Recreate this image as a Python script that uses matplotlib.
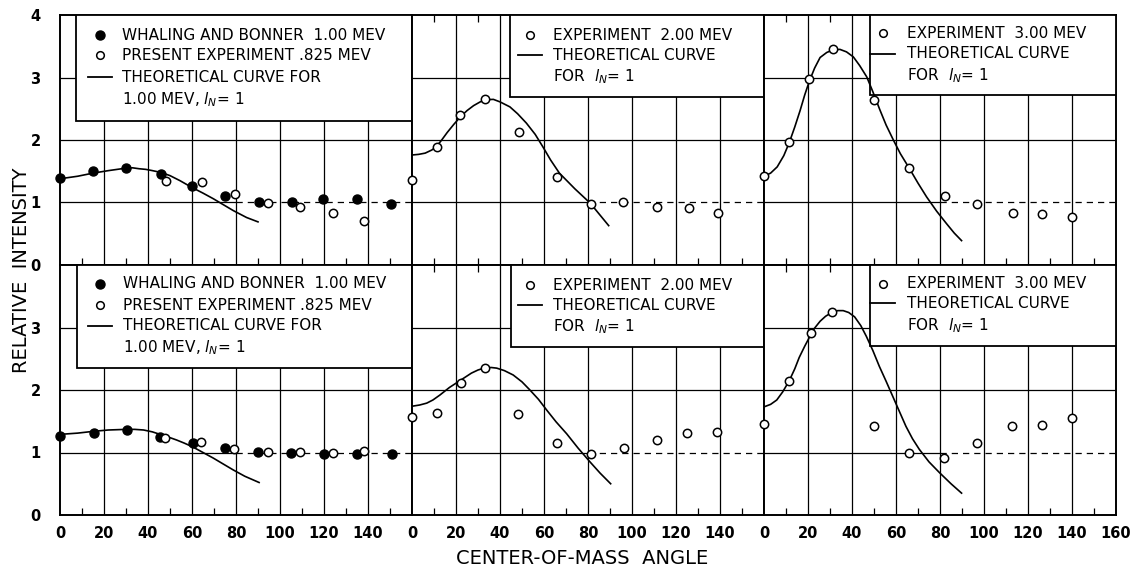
import matplotlib
matplotlib.use('Agg')
import matplotlib.pyplot as plt
from matplotlib.patches import Rectangle

plt.rcParams['font.family'] = 'DejaVu Sans'
plt.rcParams['mathtext.fontset'] = 'dejavusans'

# ---------------- data ----------------
# upper row
wb_top_x = [0, 15, 30, 46, 60, 75, 90.5, 105.5, 119.7, 134.8, 150.3]
wb_top_y = [1.39, 1.50, 1.55, 1.46, 1.26, 1.10, 1.00, 1.00, 1.05, 1.05, 0.97]
pe_top_x = [48.2, 64.5, 79.5, 94.4, 109, 124.2, 138.3]
pe_top_y = [1.35, 1.33, 1.14, 0.99, 0.92, 0.83, 0.71]
th1_top_x = [0, 8, 15, 22, 30, 33, 36, 39, 42, 46, 50, 54.5, 60, 65, 69.7, 74, 78.8, 84.8, 90]
th1_top_y = [1.38, 1.42, 1.47, 1.51, 1.55, 1.555, 1.54, 1.53, 1.51, 1.48, 1.43, 1.35, 1.24, 1.15, 1.06, 0.97, 0.87, 0.76, 0.69]

e2_top_x = [0, 11.2, 21.8, 33.2, 48.5, 65.8, 81.4, 96.1, 111.2, 125.8, 139.2]
e2_top_y = [1.36, 1.89, 2.40, 2.65, 2.13, 1.40, 0.98, 1.01, 0.93, 0.91, 0.83]
th2_top_x = [0, 3, 6, 9, 11, 13.5, 16, 19, 22, 25, 28, 31, 34, 37, 40, 44.5, 48, 52, 56, 59.5, 63, 67, 74, 81, 89.4]
th2_top_y = [1.76, 1.77, 1.79, 1.84, 1.89, 2.00, 2.12, 2.25, 2.37, 2.47, 2.55, 2.61, 2.645, 2.65, 2.61, 2.53, 2.42, 2.27, 2.09, 1.89, 1.68, 1.47, 1.22, 0.99, 0.63]

e3_top_x = [0, 11.5, 20.6, 31.2, 50, 66, 82.4, 96.7, 113, 126.2, 139.8]
e3_top_y = [1.42, 1.96, 2.98, 3.45, 2.64, 1.55, 1.10, 0.97, 0.83, 0.81, 0.77]
th3_top_x = [0, 3, 6, 9, 11.5, 14, 16.4, 18.5, 20.6, 23, 25.5, 28.5, 31.2, 34.5, 37.5, 40.6, 43.5, 46.7, 49.5, 52.7, 55.5, 58.8, 62, 66, 70, 73.9, 78.5, 83, 86.5, 89.8]
th3_top_y = [1.42, 1.47, 1.57, 1.75, 1.96, 2.21, 2.47, 2.72, 2.94, 3.15, 3.32, 3.40, 3.44, 3.45, 3.41, 3.33, 3.19, 3.01, 2.77, 2.48, 2.24, 2.00, 1.78, 1.55, 1.31, 1.09, 0.86, 0.66, 0.51, 0.39]

# lower row
wb_bot_x = [0, 15.5, 30.3, 45.5, 60.3, 75, 90.2, 104.9, 120, 134.8, 150.8]
wb_bot_y = [1.27, 1.31, 1.36, 1.25, 1.15, 1.07, 1.01, 1.00, 0.97, 0.98, 0.97]
pe_bot_x = [47.7, 64, 79.2, 94.4, 109, 124, 138.2]
pe_bot_y = [1.24, 1.17, 1.06, 1.01, 1.01, 1.00, 1.03]
th1_bot_x = [0, 8, 15.5, 22, 30, 34, 38, 42, 45.5, 49, 53, 56.5, 60.3, 65, 69.7, 74, 78.8, 84, 90.5]
th1_bot_y = [1.29, 1.31, 1.34, 1.36, 1.37, 1.37, 1.36, 1.33, 1.29, 1.25, 1.20, 1.15, 1.09, 1.00, 0.91, 0.82, 0.72, 0.62, 0.52]

e2_bot_x = [0, 11.5, 22.1, 33.2, 48.3, 65.8, 81.4, 96.4, 111.2, 125.1, 138.5]
e2_bot_y = [1.57, 1.63, 2.12, 2.35, 1.62, 1.16, 0.97, 1.08, 1.20, 1.31, 1.33]
th2_bot_x = [0, 3.5, 6.7, 9.5, 12.7, 17, 21.8, 27, 30, 33.2, 36, 38.5, 42, 46, 50, 53.6, 57.5, 61.2, 65.5, 70.3, 75.5, 80.9, 85.5, 90.3]
th2_bot_y = [1.74, 1.76, 1.79, 1.84, 1.92, 2.04, 2.15, 2.27, 2.32, 2.355, 2.36, 2.35, 2.31, 2.24, 2.13, 2.00, 1.85, 1.68, 1.49, 1.30, 1.07, 0.85, 0.67, 0.50]

e3_bot_x = [0, 11.5, 21.2, 30.8, 50, 65.9, 82, 96.7, 112.9, 126.2, 139.8]
e3_bot_y = [1.46, 2.15, 2.91, 3.25, 1.42, 1.00, 0.92, 1.16, 1.42, 1.44, 1.55]
th3_bot_x = [0, 3, 5.8, 8.5, 11.5, 14, 16, 18.5, 20.9, 23, 25.5, 28, 30.8, 33.5, 36, 38.5, 41.2, 44, 46.5, 49.5, 52.4, 55.5, 58.5, 61.5, 64.5, 67.5, 70.6, 75, 79.7, 85, 89.8]
th3_bot_y = [1.73, 1.77, 1.84, 1.97, 2.15, 2.34, 2.52, 2.70, 2.86, 2.99, 3.10, 3.18, 3.24, 3.27, 3.27, 3.24, 3.17, 3.03, 2.86, 2.63, 2.38, 2.14, 1.90, 1.66, 1.42, 1.22, 1.05, 0.85, 0.68, 0.50, 0.35]

x_ticks = [0, 20, 40, 60, 80, 100, 120, 140, 160]

# ---------------- figure ----------------
fig = plt.figure(figsize=(11.36, 5.71), dpi=100)
W, H = 1136, 571
left_px, panel_w = 60, 352
top_px, panel_h = 15, 250


def make_axes(row, col):
    x0 = (left_px + col * panel_w) / W
    y0 = 1 - (top_px + (row + 1) * panel_h) / H
    ax = fig.add_axes([x0, y0, panel_w / W, panel_h / H])
    ax.set_xlim(0, 160)
    ax.set_ylim(0, 4)
    for s in ax.spines.values():
        s.set_linewidth(1.4)
    # graph-paper grid
    for gx in range(20, 160, 20):
        ax.axvline(gx, color='black', lw=0.9, zorder=1)
    for gy in (2, 3):
        ax.axhline(gy, color='black', lw=0.9, zorder=1)
    ax.plot([0, 80], [1, 1], color='black', lw=0.9, zorder=1)
    ax.plot([80, 160], [1, 1], color='black', lw=0.9, ls=(0, (5, 4)), zorder=1)
    ax.set_xticks(x_ticks)
    ax.set_xticks(range(10, 160, 20), minor=True)
    ax.tick_params(which='major', length=0, pad=8)
    ax.tick_params(which='minor', direction='in', length=5, width=0.9, top=True)
    ax.set_yticks([0, 1, 2, 3, 4])
    return ax


def legend_box(ax, x0, y0, rows, row_y, mx, tx):
    ax.add_patch(Rectangle((x0, y0), 1 - x0, 1 - y0, transform=ax.transAxes,
                           facecolor='white', edgecolor='black', lw=1.3, zorder=3))
    for (kind, label), ry in zip(rows, row_y):
        if kind == 'filled':
            ax.plot([mx], [ry], 'o', ms=6.5, mfc='black', mec='black',
                    transform=ax.transAxes, zorder=4, clip_on=False)
        elif kind == 'open':
            ax.plot([mx], [ry], 'o', ms=5.5, mfc='white', mec='black', mew=1.1,
                    transform=ax.transAxes, zorder=4, clip_on=False)
        elif kind == 'line':
            ax.plot([mx - 0.035, mx + 0.035], [ry, ry], color='black', lw=1.3,
                    transform=ax.transAxes, zorder=4, clip_on=False)
        ax.text(tx, ry, label, transform=ax.transAxes, fontsize=11,
                va='center', ha='left', zorder=5)


def filled(ax, x, y):
    ax.plot(x, y, 'o', ms=6.5, mfc='black', mec='black', zorder=6, clip_on=False)


def opened(ax, x, y):
    ax.plot(x, y, 'o', ms=6, mfc='white', mec='black', mew=1.1, zorder=6, clip_on=False)


def curve(ax, x, y):
    ax.plot(x, y, color='black', lw=1.2, zorder=5)


rows1 = [('filled', 'WHALING AND BONNER  1.00 MEV'),
         ('open', 'PRESENT EXPERIMENT .825 MEV'),
         ('line', 'THEORETICAL CURVE FOR'),
         (None, r'1.00 MEV, $l_N$= 1')]
rows2 = [('open', 'EXPERIMENT  2.00 MEV'),
         ('line', 'THEORETICAL CURVE'),
         (None, r'FOR  $l_N$= 1')]
rows3 = [('open', 'EXPERIMENT  3.00 MEV'),
         ('line', 'THEORETICAL CURVE'),
         (None, r'FOR  $l_N$= 1')]

axes = [[make_axes(r, c) for c in range(3)] for r in range(2)]

# upper row
ax = axes[0][0]
curve(ax, th1_top_x, th1_top_y)
filled(ax, wb_top_x, wb_top_y)
opened(ax, pe_top_x, pe_top_y)
legend_box(ax, 0.045, 0.576, rows1, [0.92, 0.84, 0.752, 0.662], 0.114, 0.176)

ax = axes[0][1]
curve(ax, th2_top_x, th2_top_y)
opened(ax, e2_top_x, e2_top_y)
legend_box(ax, 0.278, 0.672, rows2, [0.92, 0.84, 0.752], 0.335, 0.40)

ax = axes[0][2]
curve(ax, th3_top_x, th3_top_y)
opened(ax, e3_top_x, e3_top_y)
legend_box(ax, 0.30, 0.68, rows3, [0.926, 0.846, 0.758], 0.337, 0.405)

# lower row
ax = axes[1][0]
curve(ax, th1_bot_x, th1_bot_y)
filled(ax, wb_bot_x, wb_bot_y)
opened(ax, pe_bot_x, pe_bot_y)
legend_box(ax, 0.048, 0.588, rows1, [0.924, 0.84, 0.756, 0.668], 0.114, 0.178)

ax = axes[1][1]
curve(ax, th2_bot_x, th2_bot_y)
opened(ax, e2_bot_x, e2_bot_y)
legend_box(ax, 0.281, 0.672, rows2, [0.92, 0.84, 0.752], 0.335, 0.40)

ax = axes[1][2]
curve(ax, th3_bot_x, th3_bot_y)
opened(ax, e3_bot_x, e3_bot_y)
legend_box(ax, 0.30, 0.676, rows3, [0.924, 0.848, 0.756], 0.337, 0.405)

# tick labels
for r in range(2):
    for c in range(3):
        ax = axes[r][c]
        if r == 0:
            ax.set_xticklabels([])
        else:
            labels = [str(v) for v in x_ticks]
            if c < 2:
                labels[-1] = ''
            ax.set_xticklabels(labels, fontsize=10.5, fontweight='bold')
        if c == 0:
            ylabels = ['0', '1', '2', '3', '4'] if r == 0 else ['0', '1', '2', '3', '']
            ax.set_yticklabels(ylabels, fontsize=10.5, fontweight='bold')
            ax.tick_params(axis='y', pad=14)
        else:
            ax.set_yticklabels([])

fig.text(22 / W, 1 - 270 / H, 'RELATIVE  INTENSITY', rotation=90, fontsize=14,
         ha='center', va='center')
fig.text(582 / W, 1 - 558 / H, 'CENTER-OF-MASS  ANGLE', fontsize=14,
         ha='center', va='center')

fig.savefig('out.png', dpi=100)
